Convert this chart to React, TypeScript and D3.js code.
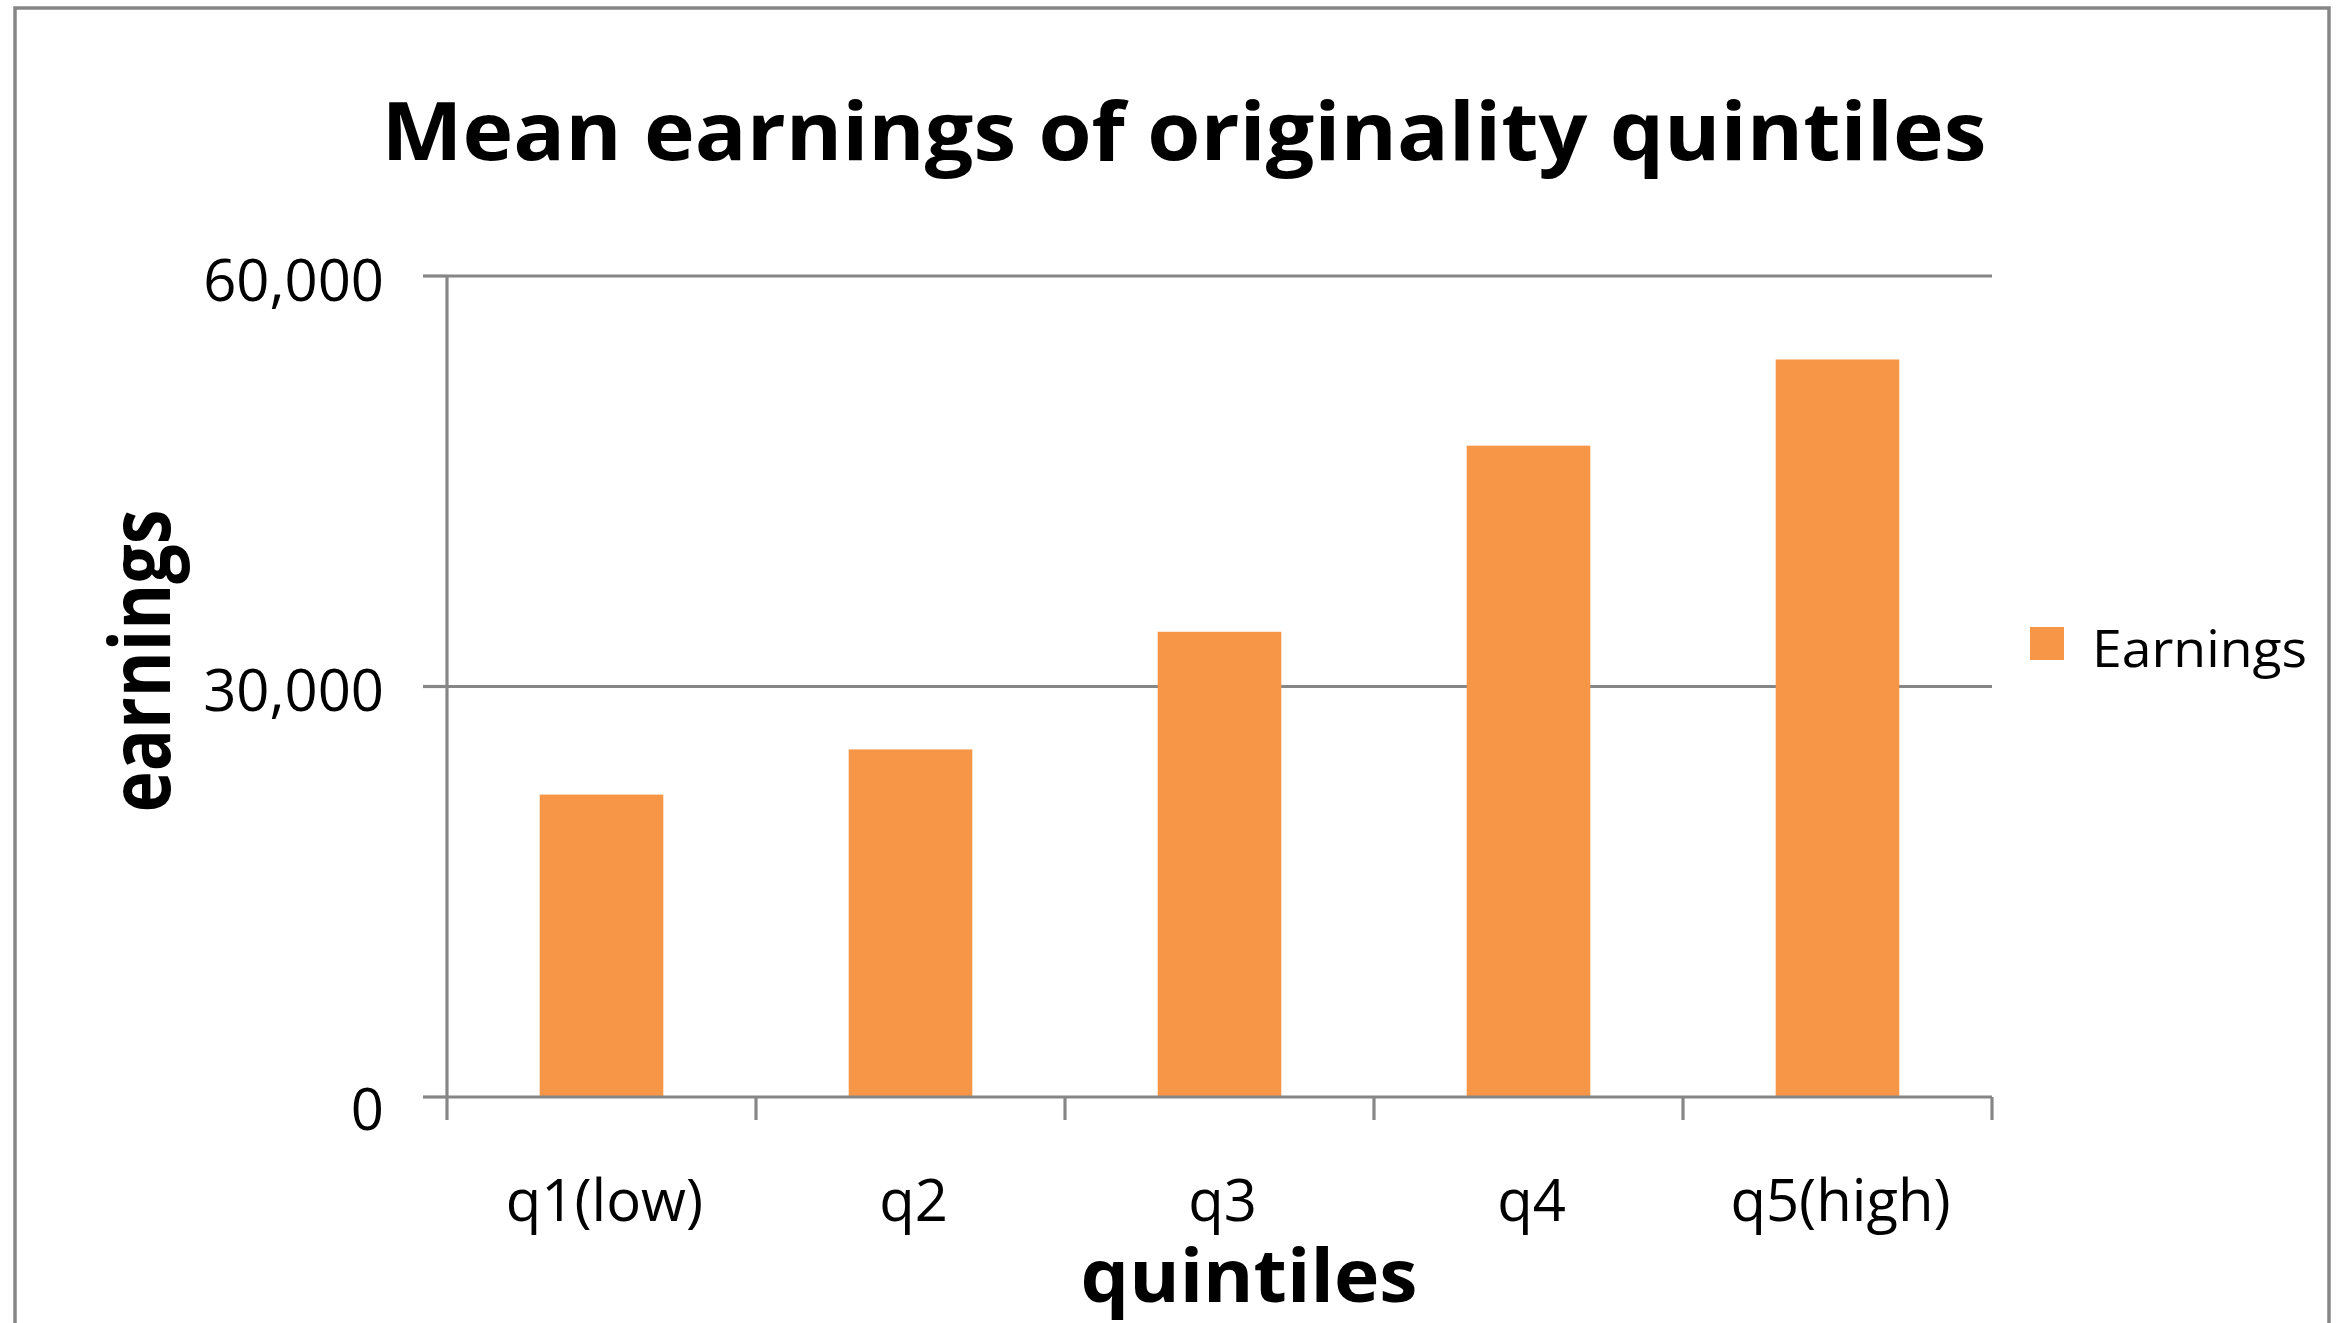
import React from "react";
import * as d3 from "d3";

const categories = ["q1(low)", "q2", "q3", "q4", "q5(high)"];
const earnings = [22100, 25400, 34000, 47600, 53900];
const yTicks = [0, 30000, 60000];
const seriesName = "Earnings";
const titleText = "Mean earnings of originality quintiles";
const xTitle = "quintiles";
const yTitle = "earnings";

const W = 2345;
const H = 1323;
const FONT = "'Open Sans', 'Noto Sans', sans-serif";
const GRAY = "#868686";
const ORANGE = "#F79646";

export default function App() {
  const x = d3
    .scaleBand<string>()
    .domain(categories)
    .range([447, 1992])
    .paddingInner(0.6)
    .paddingOuter(0.3);
  const y = d3.scaleLinear().domain([0, 60000]).range([1097, 276]);
  const fmt = d3.format(",");
  const step = x.step();
  const boundaries = categories.map((c) => (x(c) as number) - (step * 0.6) / 2);
  boundaries.push(x.range()[1]);

  return (
    <svg
      width={W}
      height={H}
      style={{ position: "absolute", left: 0, top: 0, display: "block", background: "#fff" }}
    >
      <rect x={0} y={0} width={W} height={H} fill="#fff" />
      {/* chart border */}
      <rect x={15} y={8} width={2314} height={1400} fill="none" stroke={GRAY} strokeWidth={3.5} />

      {/* title */}
      <text
        x={1184}
        y={160}
        textAnchor="middle"
        fontFamily={FONT}
        fontWeight="bold"
        fontSize={80}
        textLength={1605}
        lengthAdjust="spacingAndGlyphs"
        fill="#000"
      >
        {titleText}
      </text>

      {/* gridlines (excluding zero) */}
      {yTicks
        .filter((t) => t !== 0)
        .map((t) => (
          <line key={"g" + t} x1={447} x2={1992} y1={y(t)} y2={y(t)} stroke={GRAY} strokeWidth={3.2} />
        ))}

      {/* bars */}
      {categories.map((c, i) => (
        <rect
          key={c}
          x={x(c)}
          y={y(earnings[i])}
          width={x.bandwidth()}
          height={y(0) - y(earnings[i])}
          fill={ORANGE}
        />
      ))}

      {/* y axis */}
      <line x1={447} x2={447} y1={y(60000)} y2={y(0)} stroke={GRAY} strokeWidth={3.2} />
      {yTicks.map((t) => (
        <g key={"yt" + t}>
          <line x1={423} x2={447} y1={y(t)} y2={y(t)} stroke={GRAY} strokeWidth={3.2} />
          <text
            x={384}
            y={y(t) + (t === 0 ? 10 : 2)}
            textAnchor="end"
            dominantBaseline="central"
            fontFamily={FONT}
            fontSize={58}
            fill="#000"
          >
            {fmt(t)}
          </text>
        </g>
      ))}

      {/* x axis */}
      <line x1={447} x2={1992} y1={y(0)} y2={y(0)} stroke={GRAY} strokeWidth={3.2} />
      {boundaries.map((b, i) => (
        <line key={"xt" + i} x1={b} x2={b} y1={y(0)} y2={1120} stroke={GRAY} strokeWidth={3.2} />
      ))}
      {categories.map((c) => (
        <text
          key={"xl" + c}
          x={(x(c) as number) + x.bandwidth() / 2 + 3}
          y={1221}
          textAnchor="middle"
          fontFamily={FONT}
          fontSize={58}
          fill="#000"
        >
          {c}
        </text>
      ))}

      {/* axis titles */}
      <text
        x={1249}
        y={1302}
        textAnchor="middle"
        fontFamily={FONT}
        fontWeight="bold"
        fontSize={74}
        textLength={337}
        lengthAdjust="spacingAndGlyphs"
        fill="#000"
      >
        {xTitle}
      </text>
      <text
        transform={`translate(170,661) rotate(-90)`}
        textAnchor="middle"
        fontFamily={FONT}
        fontWeight="bold"
        fontSize={84}
        textLength={303}
        lengthAdjust="spacingAndGlyphs"
        fill="#000"
      >
        {yTitle}
      </text>

      {/* legend */}
      <rect x={2030} y={627} width={34} height={33} fill={ORANGE} />
      <text
        x={2092}
        y={667}
        fontFamily={FONT}
        fontSize={52}
        textLength={215}
        lengthAdjust="spacingAndGlyphs"
        fill="#000"
      >
        {seriesName}
      </text>
    </svg>
  );
}
